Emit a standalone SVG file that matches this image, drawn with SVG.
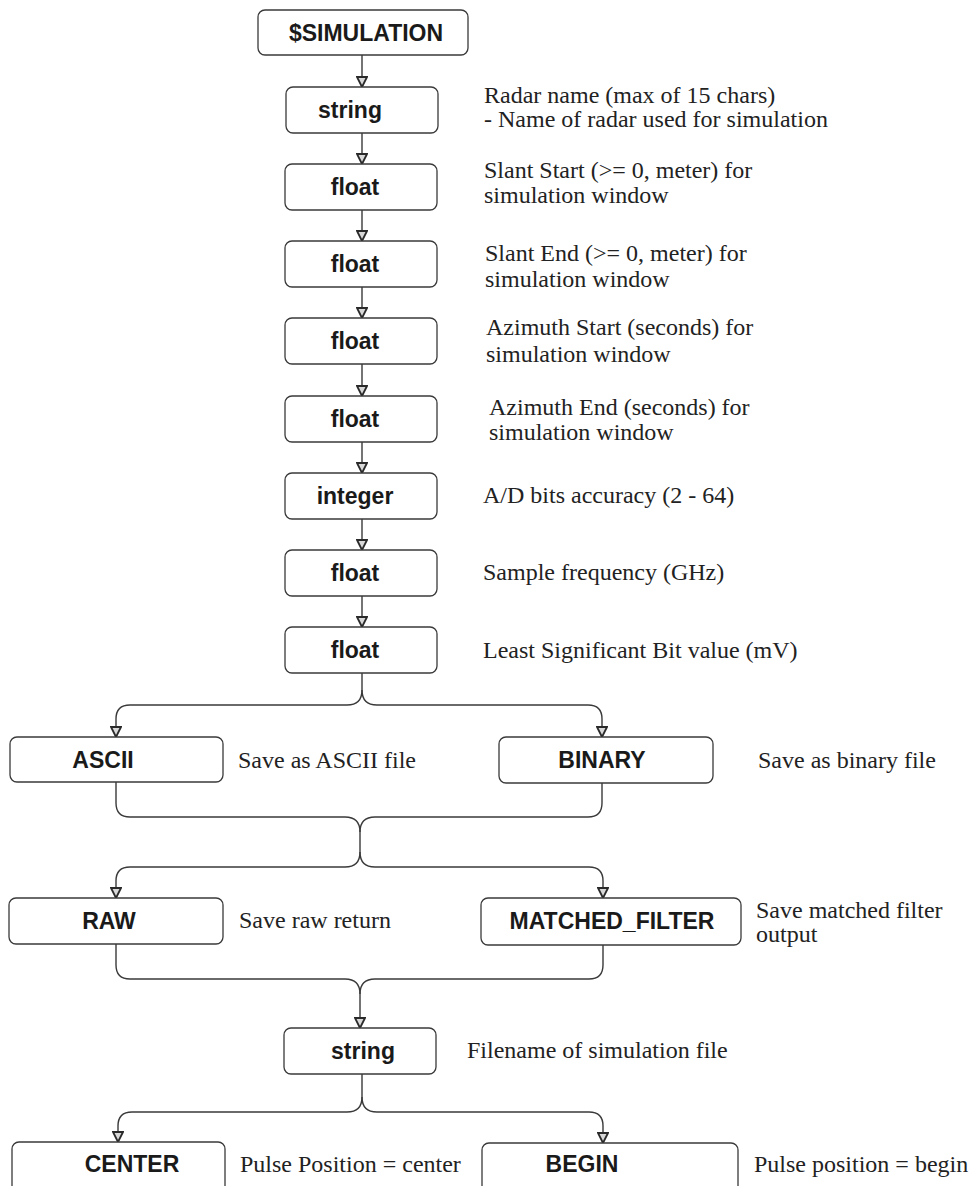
<svg xmlns="http://www.w3.org/2000/svg" width="979" height="1186" viewBox="0 0 979 1186">
<style>
.box{fill:#fff;stroke:#3a3a3a;stroke-width:1.3}
.lbl{font-family:"Liberation Sans",Arial,sans-serif;font-weight:bold;font-size:23px;fill:#1a1a1a;text-anchor:middle}
.desc{font-family:"Liberation Serif","Times New Roman",serif;font-size:24px;fill:#222}
.con{fill:none;stroke:#3a3a3a;stroke-width:1.4}
</style>
<defs>
<marker id="arr" viewBox="0 0 12 12" refX="11" refY="6" markerWidth="12" markerHeight="12" markerUnits="userSpaceOnUse" orient="auto">
<path d="M1,1 L11,6 L1,11 z" fill="#d8d8d8" stroke="#2a2a2a" stroke-width="1.8" stroke-linejoin="miter"/>
</marker>
</defs>
<rect width="979" height="1186" fill="#fff"/>
<g id="connectors">
<path class="con" d="M362,55 V87" marker-end="url(#arr)"/>
<path class="con" d="M362,133 V164" marker-end="url(#arr)"/>
<path class="con" d="M362,210 V241" marker-end="url(#arr)"/>
<path class="con" d="M362,287 V318" marker-end="url(#arr)"/>
<path class="con" d="M362,364 V396" marker-end="url(#arr)"/>
<path class="con" d="M362,442 V473" marker-end="url(#arr)"/>
<path class="con" d="M362,519 V550" marker-end="url(#arr)"/>
<path class="con" d="M362,596 V627" marker-end="url(#arr)"/>
<path class="con" d="M362,673 V690 Q362,705 347,705 H130 Q116,705 116,719 V737" marker-end="url(#arr)"/>
<path class="con" d="M362,690 Q362,705 377,705 H588 Q602,705 602,719 V737" marker-end="url(#arr)"/>
<path class="con" d="M116,782 V803 Q116,817 130,817 H345 Q360,817 360,832 V852 Q360,867 345,867 H130 Q116,867 116,881 V898" marker-end="url(#arr)"/>
<path class="con" d="M602,783 V803 Q602,817 588,817 H375 Q360,817 360,832"/>
<path class="con" d="M360,852 Q360,867 375,867 H589 Q603,867 603,881 V898" marker-end="url(#arr)"/>
<path class="con" d="M116,944 V965 Q116,979 130,979 H345 Q360,979 360,994 V1028" marker-end="url(#arr)"/>
<path class="con" d="M603,945 V965 Q603,979 589,979 H375 Q360,979 360,994"/>
<path class="con" d="M362,1074 V1097 Q362,1112 347,1112 H132 Q118,1112 118,1126 V1142" marker-end="url(#arr)"/>
<path class="con" d="M362,1097 Q362,1112 377,1112 H589 Q603,1112 603,1126 V1143" marker-end="url(#arr)"/>
</g>
<g id="n-simulation"><rect class="box" x="258" y="10" width="210" height="45" rx="7"/><text class="lbl" x="366" y="41">$SIMULATION</text></g>
<g id="n-string1"><rect class="box" x="286" y="87" width="152" height="46" rx="7"/><text class="lbl" x="350" y="118">string</text></g>
<g id="d-string1"><text class="desc" x="484" y="103">Radar name (max of 15 chars)</text><text class="desc" x="484" y="127">- Name of radar used for simulation</text></g>
<g id="n-float1"><rect class="box" x="285" y="164" width="152" height="46" rx="7"/><text class="lbl" x="355" y="195">float</text></g>
<g id="d-float1"><text class="desc" x="484" y="178">Slant Start (&gt;= 0, meter) for</text><text class="desc" x="484" y="203">simulation window</text></g>
<g id="n-float2"><rect class="box" x="285" y="241" width="152" height="46" rx="7"/><text class="lbl" x="355" y="272">float</text></g>
<g id="d-float2"><text class="desc" x="485" y="261">Slant End (&gt;= 0, meter) for</text><text class="desc" x="485" y="287">simulation window</text></g>
<g id="n-float3"><rect class="box" x="285" y="318" width="152" height="46" rx="7"/><text class="lbl" x="355" y="349">float</text></g>
<g id="d-float3"><text class="desc" x="486" y="335">Azimuth Start (seconds) for</text><text class="desc" x="486" y="362">simulation window</text></g>
<g id="n-float4"><rect class="box" x="285" y="396" width="152" height="46" rx="7"/><text class="lbl" x="355" y="427">float</text></g>
<g id="d-float4"><text class="desc" x="489" y="415">Azimuth End (seconds) for</text><text class="desc" x="489" y="440">simulation window</text></g>
<g id="n-integer"><rect class="box" x="285" y="473" width="152" height="46" rx="7"/><text class="lbl" x="355" y="504">integer</text></g>
<g id="d-integer"><text class="desc" x="483" y="503">A/D bits accuracy (2 - 64)</text></g>
<g id="n-float5"><rect class="box" x="285" y="550" width="152" height="46" rx="7"/><text class="lbl" x="355" y="581">float</text></g>
<g id="d-float5"><text class="desc" x="483" y="580">Sample frequency (GHz)</text></g>
<g id="n-float6"><rect class="box" x="285" y="627" width="152" height="46" rx="7"/><text class="lbl" x="355" y="658">float</text></g>
<g id="d-float6"><text class="desc" x="483" y="658">Least Significant Bit value (mV)</text></g>
<g id="n-ascii"><rect class="box" x="10" y="737" width="213" height="45" rx="7"/><text class="lbl" x="103" y="768">ASCII</text></g>
<g id="d-ascii"><text class="desc" x="238" y="768">Save as ASCII file</text></g>
<g id="n-binary"><rect class="box" x="499" y="737" width="214" height="46" rx="7"/><text class="lbl" x="602" y="768">BINARY</text></g>
<g id="d-binary"><text class="desc" x="758" y="768">Save as binary file</text></g>
<g id="n-raw"><rect class="box" x="9" y="898" width="214" height="46" rx="7"/><text class="lbl" x="109" y="929">RAW</text></g>
<g id="d-raw"><text class="desc" x="239" y="928">Save raw return</text></g>
<g id="n-matched"><rect class="box" x="481" y="898" width="260" height="47" rx="7"/><text class="lbl" x="612" y="929">MATCHED_FILTER</text></g>
<g id="d-matched"><text class="desc" x="756" y="918">Save matched filter</text><text class="desc" x="756" y="942">output</text></g>
<g id="n-string2"><rect class="box" x="284" y="1028" width="152" height="46" rx="7"/><text class="lbl" x="363" y="1059">string</text></g>
<g id="d-string2"><text class="desc" x="467" y="1058">Filename of simulation file</text></g>
<g id="n-center"><rect class="box" x="12" y="1142" width="213" height="52" rx="7"/><text class="lbl" x="132" y="1172">CENTER</text></g>
<g id="d-center"><text class="desc" x="240" y="1172">Pulse Position = center</text></g>
<g id="n-begin"><rect class="box" x="482" y="1143" width="256" height="52" rx="7"/><text class="lbl" x="582" y="1172">BEGIN</text></g>
<g id="d-begin"><text class="desc" x="754" y="1172">Pulse position = begin</text></g>
</svg>
